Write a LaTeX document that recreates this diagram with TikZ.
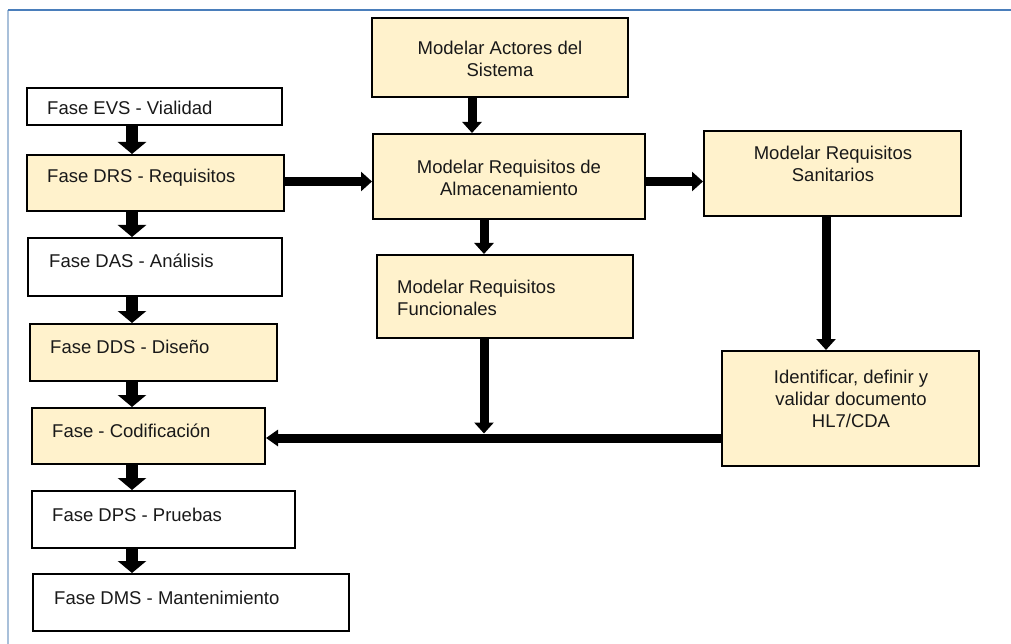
\documentclass[tikz,border=0pt]{standalone}
\usepackage{fontspec}
\setmainfont{Liberation Sans}
\usetikzlibrary{arrows.meta}
\definecolor{boxfill}{HTML}{FFF2CC}
\definecolor{frametop}{HTML}{4A7EBB}
\definecolor{frameleft}{HTML}{A9C0DA}
\begin{document}
\begin{tikzpicture}[x=1pt,y=-1pt,
  every node/.style={font=\fontsize{18.5}{22}\selectfont},
  box/.style={draw=black, line width=2pt, rectangle, inner sep=0pt, fill=white},
  filled/.style={box, fill=boxfill},
  txt/.style={inner sep=0pt, text=black!90},
  bigarrow/.style={line width=12pt, -{Triangle[width=28pt,length=12pt]}},
  midarrow/.style={line width=9pt, -{Triangle[width=19pt,length=11pt]}}
]
\useasboundingbox (0,0) rectangle (1011,644);

% page frame
\draw[frameleft, line width=2pt] (8,644) -- (8,10);
\draw[frametop, line width=1.5pt] (8,10) -- (1011,10);

% methodology phases (left column)
\node[box,    minimum width=255pt, minimum height=37pt] (evs) at (154.5,106.5) {};
\node[filled, minimum width=257pt, minimum height=56pt] (drs) at (155.5,183) {};
\node[box,    minimum width=254pt, minimum height=58pt] (das) at (155,267) {};
\node[filled, minimum width=247pt, minimum height=57pt] (dds) at (153.5,352.5) {};
\node[filled, minimum width=233pt, minimum height=56pt] (cod) at (148.5,436) {};
\node[box,    minimum width=263pt, minimum height=57pt] (dps) at (163.5,519.5) {};
\node[box,    minimum width=316pt, minimum height=57pt] (dms) at (191,602.5) {};

\node[txt, anchor=base west] (evs-t) at (47,115) {Fase EVS - Vialidad};
\node[txt, anchor=base west] (drs-t) at (47,183) {Fase DRS - Requisitos};
\node[txt, anchor=base west] (das-t) at (49,267) {Fase DAS - Análisis};
\node[txt, anchor=base west] (dds-t) at (50,353) {Fase DDS - Diseño};
\node[txt, anchor=base west] (cod-t) at (52,437) {Fase - Codificación};
\node[txt, anchor=base west] (dps-t) at (52,521) {Fase DPS - Pruebas};
\node[txt, anchor=base west] (dms-t) at (54,604) {Fase DMS - Mantenimiento};

% modelling activities
\node[filled, minimum width=256pt, minimum height=79pt]  (act) at (500,57.5) {};
\node[filled, minimum width=272pt, minimum height=85pt]  (alm) at (509,176.5) {};
\node[filled, minimum width=256pt, minimum height=83pt]  (fun) at (505,296.5) {};
\node[filled, minimum width=257pt, minimum height=85pt]  (san) at (832.5,173.5) {};
\node[filled, minimum width=257pt, minimum height=115pt] (hl7) at (850.5,408.5) {};

% multi-line labels are placed by the baseline of their last line
\node[txt, align=center, anchor=base] (act-t) at (500,77) {Modelar Actores del\\Sistema};
\node[txt, align=center, anchor=base] (alm-t) at (509,196) {Modelar Requisitos de\\Almacenamiento};
\node[txt, align=left, anchor=base west] (fun-t) at (397,315) {Modelar Requisitos\\Funcionales};
\node[txt, align=center, anchor=base] (san-t) at (833,182) {Modelar Requisitos\\Sanitarios};
\node[txt, align=center, anchor=base] (hl7-t) at (851,427) {Identificar, definir y\\validar documento\\HL7/CDA};

% guide coordinates for the connectors
\coordinate (lx) at (132,0);
\coordinate (ax) at (472,0);
\coordinate (fx) at (484,0);
\coordinate (sx) at (826,0);
\coordinate (ry) at (0,181.5);
\coordinate (ly) at (0,438);
\coordinate (jn) at (484,433.5);

% phase sequence
\draw[bigarrow] (lx |- evs.south) -- (lx |- drs.north);
\draw[bigarrow] (lx |- drs.south) -- (lx |- das.north);
\draw[bigarrow] (lx |- das.south) -- (lx |- dds.north);
\draw[bigarrow] (lx |- dds.south) -- (lx |- cod.north);
\draw[bigarrow] (lx |- cod.south) -- (lx |- dps.north);
\draw[bigarrow] (lx |- dps.south) -- (lx |- dms.north);

% modelling flow
\draw[midarrow] (drs.east |- ry) -- (alm.west |- ry);
\draw[midarrow] (alm.east |- ry) -- (san.west |- ry);
\draw[midarrow] (ax |- act.south) -- (ax |- alm.north);
\draw[midarrow] (fx |- alm.south) -- (fx |- fun.north);
\draw[midarrow] (sx |- san.south) -- (sx |- hl7.north);
\draw[midarrow] (fx |- fun.south) -- (jn);
\draw[line width=9pt, -{Triangle[width=16pt,length=12pt]}] (hl7.west |- ly) -- (cod.east |- ly);
\end{tikzpicture}
\end{document}
